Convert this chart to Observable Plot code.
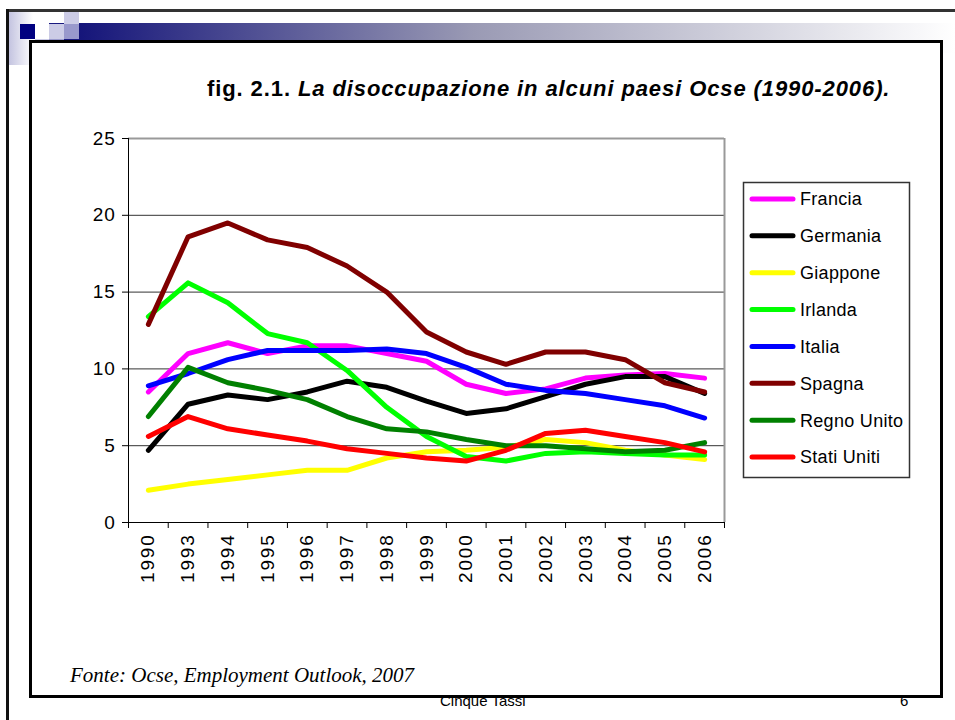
<!DOCTYPE html>
<html>
<head>
<meta charset="utf-8">
<script src="https://cdn.jsdelivr.net/npm/d3@7"></script>
<script src="https://cdn.jsdelivr.net/npm/@observablehq/plot@0.6"></script>
<style>
  body { margin: 0; background: #fff; }
  #page { position: relative; width: 955px; height: 720px; overflow: hidden; background: #fff; font-family: "Liberation Sans", Arial, sans-serif; }
  .abs { position: absolute; left: 0; top: 0; }
</style>
</head>
<body>
<div id="page">
  <svg id="decor" class="abs" width="955" height="720"></svg>
  <div id="chart" class="abs"></div>
  <svg id="overlay" class="abs" width="955" height="720"></svg>
</div>
<script>
// ---- data ----
const years = ["1990","1993","1994","1995","1996","1997","1998","1999","2000","2001","2002","2003","2004","2005","2006"];
const series = ["Francia","Germania","Giappone","Irlanda","Italia","Spagna","Regno Unito","Stati Uniti"];
const colors = ["#ff00ff","#000000","#ffff00","#00ff00","#0000ff","#800000","#008000","#ff0000"];
const yTicks = [0, 5, 10, 15, 20, 25];

const francia    = [8.5, 11.0, 11.7, 11.0, 11.5, 11.5, 11.0, 10.5, 9.0, 8.4, 8.7, 9.4, 9.6, 9.7, 9.4];
const germania   = [4.7, 7.7, 8.3, 8.0, 8.5, 9.2, 8.8, 7.9, 7.1, 7.4, 8.2, 9.0, 9.5, 9.5, 8.4];
const giappone   = [2.1, 2.5, 2.8, 3.1, 3.4, 3.4, 4.2, 4.6, 4.7, 4.9, 5.4, 5.2, 4.7, 4.4, 4.1];
const irlanda    = [13.4, 15.6, 14.3, 12.3, 11.7, 9.9, 7.5, 5.6, 4.3, 4.0, 4.5, 4.6, 4.5, 4.4, 4.4];
const italia     = [8.9, 9.7, 10.6, 11.2, 11.2, 11.2, 11.3, 11.0, 10.1, 9.0, 8.6, 8.4, 8.0, 7.6, 6.8];
const spagna     = [12.9, 18.6, 19.5, 18.4, 17.9, 16.7, 15.0, 12.4, 11.1, 10.3, 11.1, 11.1, 10.6, 9.1, 8.5];
const regnoUnito = [6.9, 10.1, 9.1, 8.6, 8.0, 6.9, 6.1, 5.9, 5.4, 5.0, 5.0, 4.8, 4.6, 4.7, 5.2];
const statiUniti = [5.6, 6.9, 6.1, 5.7, 5.3, 4.8, 4.5, 4.2, 4.0, 4.7, 5.8, 6.0, 5.6, 5.2, 4.6];

const values = [francia, germania, giappone, irlanda, italia, spagna, regnoUnito, statiUniti];
const data = series.flatMap((s, k) => values[k].map((v, i) => ({serie: s, pos: i + 0.5, year: years[i], v})));

// ---- slide decoration ----
const ns = "http://www.w3.org/2000/svg";
const decor = d3.select("#decor");
const defs = decor.append("defs");
const g1 = defs.append("linearGradient").attr("id", "barGrad").attr("x1", 0).attr("x2", 1).attr("y1", 0).attr("y2", 0);
g1.append("stop").attr("offset", "0%").attr("stop-color", "#15157a");
g1.append("stop").attr("offset", "45%").attr("stop-color", "#9a9ab4");
g1.append("stop").attr("offset", "100%").attr("stop-color", "#ffffff");
const g2 = defs.append("linearGradient").attr("id", "sideGrad").attr("x1", 0).attr("x2", 1).attr("y1", 0).attr("y2", 0);
g2.append("stop").attr("offset", "0%").attr("stop-color", "#c4c4e0");
g2.append("stop").attr("offset", "100%").attr("stop-color", "#ffffff");

decor.append("rect").attr("x", 9).attr("y", 12).attr("width", 24).attr("height", 53).attr("fill", "url(#sideGrad)");
decor.append("rect").attr("x", 79).attr("y", 23).attr("width", 876).attr("height", 30).attr("fill", "url(#barGrad)");
decor.append("rect").attr("x", 64).attr("y", 39).attr("width", 15).attr("height", 14).attr("fill", "#1a1a80");
decor.append("rect").attr("x", 49).attr("y", 23).attr("width", 15).attr("height", 1.5).attr("fill", "#1a1a80");
const squares = [
  [20, 24, 15, 15, "#000080"],
  [64, 12, 15, 12, "#ccccE6"],
  [49, 24, 15, 15, "#ccccE6"],
  [64, 24, 15, 15, "#9999cc"],
  [35, 39, 14, 13, "#ccccE6"],
  [49, 39, 15, 14, "#9999cc"],
  [35, 52, 15, 15, "#9999cc"]
];
squares.forEach(([x, y, w, h, c]) => decor.append("rect").attr("x", x).attr("y", y).attr("width", w).attr("height", h).attr("fill", c));
// outer frame
decor.append("line").attr("x1", 6).attr("x2", 955).attr("y1", 10.5).attr("y2", 10.5).attr("stroke", "#333").attr("stroke-width", 3);
decor.append("line").attr("x1", 7.5).attr("x2", 7.5).attr("y1", 9).attr("y2", 720).attr("stroke", "#111").attr("stroke-width", 3);
// inner frame
decor.append("rect").attr("x", 30.5).attr("y", 41.5).attr("width", 911).attr("height", 655).attr("fill", "#fff").attr("stroke", "#000").attr("stroke-width", 3);

// ---- chart ----
const chart = Plot.plot({
  width: 955,
  height: 720,
  marginLeft: 128,
  marginRight: 231,
  marginTop: 138,
  marginBottom: 198,
  style: {fontFamily: "'Liberation Sans', Arial, sans-serif", background: "transparent", color: "#000"},
  x: {domain: [0, 15]},
  y: {domain: [0, 25]},
  color: {domain: series, range: colors},
  marks: [
    Plot.gridY([5, 10, 15, 20], {stroke: "#333", strokeOpacity: 1, strokeWidth: 1}),
    Plot.ruleY([25], {stroke: "#999", strokeWidth: 2}),
    Plot.ruleX([15], {stroke: "#999", strokeWidth: 2}),
    Plot.line(data, {x: "pos", y: "v", z: "serie", stroke: "serie", strokeWidth: 5, strokeLinejoin: "round", strokeLinecap: "round"}),
    Plot.ruleX([0], {stroke: "#000", strokeWidth: 1}),
    Plot.ruleY([0], {stroke: "#000", strokeWidth: 1}),
    Plot.axisY({ticks: yTicks, tickSize: 6, tickPadding: 7, fontSize: 19, label: null, stroke: "#000"}),
    Plot.axisX(d3.range(years.length + 1), {tickSize: 6, tickFormat: () => "", label: null}),
    Plot.axisX(d3.range(years.length).map(i => i + 0.5), {tickSize: 0, tickPadding: 11, tickRotate: -90, fontSize: 19, tickFormat: d => years[Math.floor(d)], label: null})
  ]
});
document.getElementById("chart").appendChild(chart);
d3.select(chart).selectAll('g[aria-label="x-axis tick label"] text').style("letter-spacing", "1.8px");
d3.select(chart).selectAll('g[aria-label="y-axis tick label"] text').style("letter-spacing", "0.8px");

// ---- overlay: title, legend, footer ----
const ov = d3.select("#overlay");
const title = ov.append("text").attr("x", 207).attr("y", 96)
  .attr("font-family", "'Liberation Sans', Arial, sans-serif").attr("font-size", 22).attr("font-weight", "bold")
  .style("letter-spacing", "0.9px");
title.append("tspan").text("fig. 2.1. ");
title.append("tspan").attr("font-style", "italic").text("La disoccupazione in alcuni paesi Ocse (1990-2006).");

// legend
const lg = ov.append("g");
lg.append("rect").attr("x", 743.5).attr("y", 182.5).attr("width", 166).attr("height", 295)
  .attr("fill", "#fff").attr("stroke", "#333").attr("stroke-width", 1.5);
const rowY = d3.scalePoint().domain(series).range([199, 457]);
series.forEach((s, k) => {
  const y = rowY(s);
  lg.append("line").attr("x1", 752).attr("x2", 793).attr("y1", y).attr("y2", y)
    .attr("stroke", colors[k]).attr("stroke-width", 5).attr("stroke-linecap", "round");
  lg.append("text").attr("x", 800).attr("y", y).attr("dy", "0.36em")
    .attr("font-family", "'Liberation Sans', Arial, sans-serif").attr("font-size", 18)
    .style("letter-spacing", "0.3px").text(s);
});

// footer
ov.append("text").attr("x", 70).attr("y", 682)
  .attr("font-family", "'Liberation Serif', 'Times New Roman', serif").attr("font-style", "italic").attr("font-size", 21)
  .text("Fonte: Ocse, Employment Outlook, 2007");
ov.append("text").attr("x", 440).attr("y", 706)
  .attr("font-family", "'Liberation Sans', Arial, sans-serif").attr("font-size", 15)
  .text("Cinque Tassi");
ov.append("text").attr("x", 900).attr("y", 706)
  .attr("font-family", "'Liberation Sans', Arial, sans-serif").attr("font-size", 15)
  .text("6");
// redraw bottom frame line over the footer text as in the slide
ov.append("line").attr("x1", 29).attr("x2", 943).attr("y1", 696.5).attr("y2", 696.5).attr("stroke", "#000").attr("stroke-width", 3);
</script>
</body>
</html>
